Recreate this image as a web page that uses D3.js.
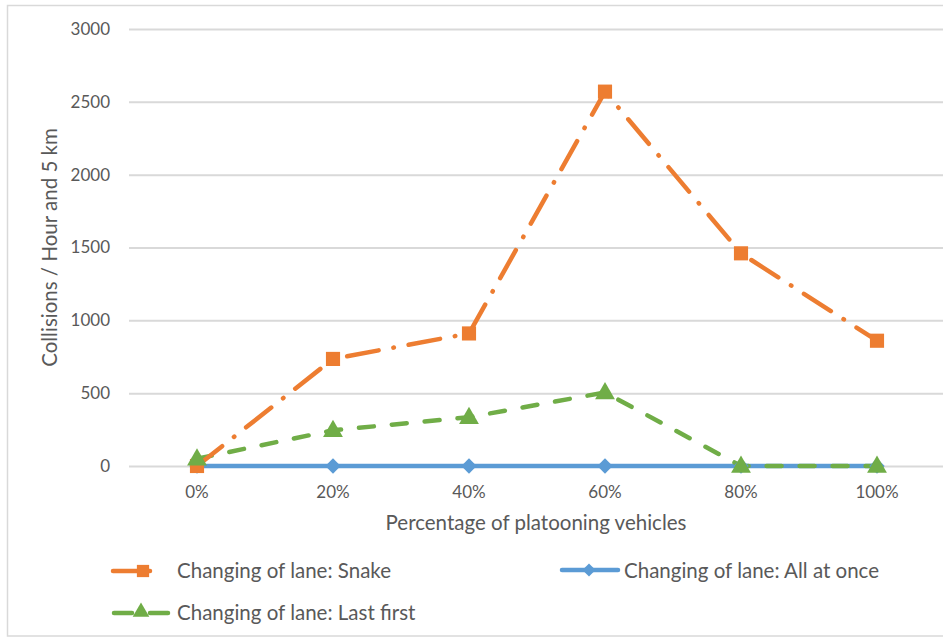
<!DOCTYPE html>
<html><head><meta charset="utf-8">
<script src="https://cdn.jsdelivr.net/npm/d3@7"></script>
<style>body{margin:0;background:#fff}svg{display:block}text{font-family:Lato,"Open Sans",sans-serif;fill:#595959}</style>
</head><body><svg id="c" width="943" height="637"></svg>
<script>
const categories = ["0%","20%","40%","60%","80%","100%"];
const snake = [0, 735, 910, 2570, 1460, 860];
const allAtOnce = [0, 0, 0, 0, 0, 0];
const lastFirst = [50, 245, 335, 505, 0, 0];
const yTicks = [0, 500, 1000, 1500, 2000, 2500, 3000];

const svg = d3.select("#c");
const W = 943, H = 637;
const pL = 129, pR = 945, pT = 29, pB = 466;
const fs = 20.5;
// outer border
svg.append("rect").attr("x",7.5).attr("y",5.5).attr("width",W+10).attr("height",630.5)
  .attr("fill","none").attr("stroke","#d9d9d9").attr("stroke-width",1.5);

const x = d3.scaleBand().domain(categories).range([pL,pR]);
const y = d3.scaleLinear().domain([0,3000]).range([pB,pT]);
const cx = d => x(d) + x.bandwidth()/2;

// gridlines
const yAxis = d3.axisLeft(y).tickValues(yTicks).tickSize(-(pR-pL)).tickPadding(19).tickFormat(d3.format("d"));
const gy = svg.append("g").attr("transform",`translate(${pL},0)`).call(yAxis);
gy.select(".domain").remove();
gy.selectAll("line").attr("stroke","#d9d9d9").attr("stroke-width",2);
gy.selectAll("text").attr("font-size",17).style("fill","#595959").attr("font-family","Lato");

const xAxis = d3.axisBottom(x).tickSize(0).tickPadding(20);
const gx = svg.append("g").attr("transform",`translate(0,${pB})`).call(xAxis);
gx.select(".domain").remove();
gx.selectAll("text").attr("font-size",17).style("fill","#595959").attr("font-family","Lato");

// axis titles
svg.append("text").attr("x",(pL+943)/2).attr("y",530).attr("text-anchor","middle").attr("font-size",fs)
  .text("Percentage of platooning vehicles");
svg.append("text").attr("transform",`translate(57,${(pT+pB)/2}) rotate(-90)`).attr("text-anchor","middle").attr("font-size",fs)
  .text("Collisions / Hour and 5 km");

const orange="#ed7d31", blue="#5b9bd5", green="#70ad47";
const line = vals => d3.line().x((d,i)=>cx(categories[i])).y(d=>y(d))(vals);

// blue line
svg.append("path").attr("d",line(allAtOnce)).attr("fill","none").attr("stroke",blue).attr("stroke-width",4.5);
// green dashed
svg.append("path").attr("d",line(lastFirst)).attr("fill","none").attr("stroke",green).attr("stroke-width",4.5)
  .attr("stroke-dasharray","15 18").attr("stroke-linecap","round");
// orange dash dot
svg.append("path").attr("d",line(snake)).attr("fill","none").attr("stroke",orange).attr("stroke-width",4.5)
  .attr("stroke-dasharray","32 15 0.5 15").attr("stroke-linecap","round");

const sym = (type,size)=>d3.symbol().type(type).size(size)();
// markers
svg.append("g").selectAll("path").data(allAtOnce).join("path")
  .attr("d",sym(d3.symbolDiamond2,150)).attr("fill",blue)
  .attr("transform",(d,i)=>`translate(${cx(categories[i])},${y(d)})`);
svg.append("g").selectAll("path").data(snake).join("path")
  .attr("d",sym(d3.symbolSquare,200)).attr("fill",orange)
  .attr("transform",(d,i)=>`translate(${cx(categories[i])},${y(d)})`);
svg.append("g").selectAll("path").data(lastFirst).join("path")
  .attr("d",sym(d3.symbolTriangle,170)).attr("fill",green)
  .attr("transform",(d,i)=>`translate(${cx(categories[i])},${y(d)+1})`);

// legend
const lg = svg.append("g");
lg.append("line").attr("x1",113).attr("x2",150).attr("y1",571).attr("y2",571).attr("stroke",orange).attr("stroke-width",4.5).attr("stroke-linecap","round");
lg.append("path").attr("d",sym(d3.symbolSquare,150)).attr("fill",orange).attr("transform","translate(143,571)");
lg.append("text").attr("x",177).attr("y",578).attr("font-size",fs).text("Changing of lane: Snake");

lg.append("line").attr("x1",562).attr("x2",618).attr("y1",570).attr("y2",570).attr("stroke",blue).attr("stroke-width",4.5).attr("stroke-linecap","round");
lg.append("path").attr("d",sym(d3.symbolDiamond2,110)).attr("fill",blue).attr("transform","translate(589,570)");
lg.append("text").attr("x",624).attr("y",578).attr("font-size",fs).text("Changing of lane: All at once");

lg.append("line").attr("x1",114).attr("x2",132).attr("y1",613).attr("y2",613).attr("stroke",green).attr("stroke-width",4.5).attr("stroke-linecap","round");
lg.append("line").attr("x1",150).attr("x2",168).attr("y1",613).attr("y2",613).attr("stroke",green).attr("stroke-width",4.5).attr("stroke-linecap","round");
lg.append("path").attr("d",sym(d3.symbolTriangle,120)).attr("fill",green).attr("transform","translate(141,612)");
lg.append("text").attr("x",177).attr("y",620).attr("font-size",fs).text("Changing of lane: Last first");
</script></body></html>
